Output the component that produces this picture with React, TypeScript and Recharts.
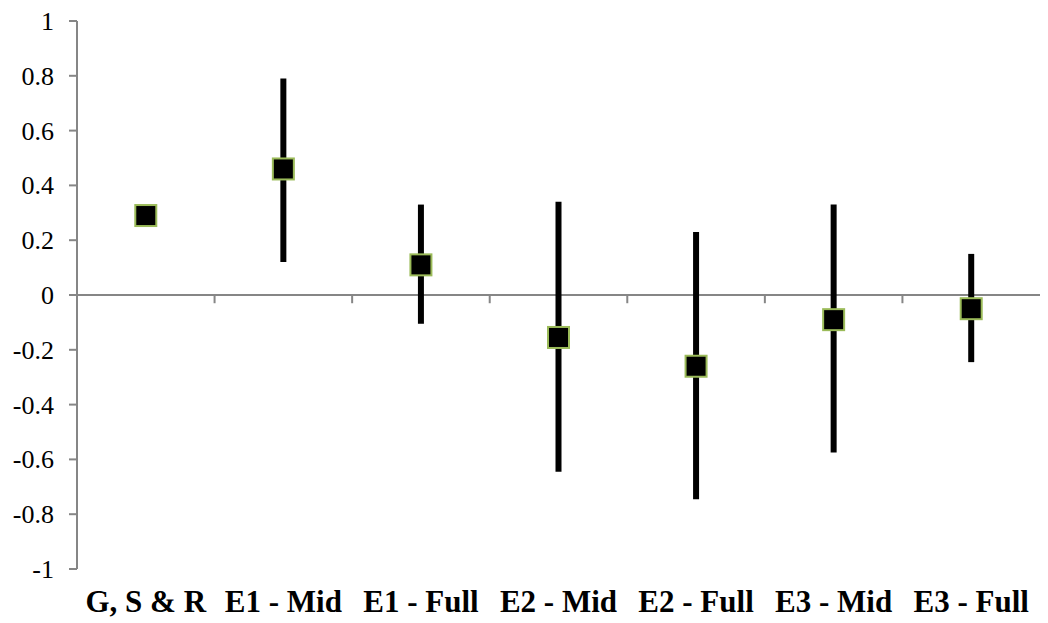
import React from 'react';
import { LineChart, Line, XAxis, YAxis, ReferenceLine, ErrorBar } from 'recharts';

const categories = ['G, S & R', 'E1 - Mid', 'E1 - Full', 'E2 - Mid', 'E2 - Full', 'E3 - Mid', 'E3 - Full'];
const means = [0.29, 0.46, 0.11, -0.155, -0.26, -0.09, -0.05];
const lows = [0.29, 0.12, -0.105, -0.645, -0.745, -0.575, -0.245];
const highs = [0.29, 0.79, 0.33, 0.34, 0.23, 0.33, 0.15];
const yTicks = [-1, -0.8, -0.6, -0.4, -0.2, 0, 0.2, 0.4, 0.6, 0.8, 1];

const AXIS = '#868686';
const FONT = "'Times New Roman', 'Liberation Serif', Times, serif";

const data = categories.map((name, i) => ({
  pos: i + 1,
  name,
  mean: means[i],
  err: [means[i] - lows[i], highs[i] - means[i]],
}));

// boundaries between categories, where the zero line gets its small tick marks
const boundaries = categories.slice(1).map((_, i) => i + 1.5);

const Square = (props: any) => {
  const { cx, cy } = props;
  if (cx == null || cy == null) return null;
  const s = 21;
  return (
    <rect x={cx - s / 2} y={cy - s / 2} width={s} height={s} fill="#000" stroke="#9bbb59" strokeWidth={2} />
  );
};

// tick label with the font set on the text element itself
const Tick = (props: any) => {
  const { x, y, payload, anchor, size, weight, dy, format } = props;
  return (
    <text
      x={x}
      y={y}
      dy={dy}
      textAnchor={anchor}
      fill="#000"
      style={{ fontFamily: FONT, fontSize: size, fontWeight: weight }}
    >
      {format(payload.value)}
    </text>
  );
};

export default function App() {
  return (
    <div style={{ position: 'absolute', left: 0, top: 0, background: '#fff', fontFamily: FONT }}>
      <LineChart width={1048} height={623} data={data} margin={{ top: 21, right: 8, left: 0, bottom: 0 }}>
        <XAxis
          dataKey="pos"
          type="number"
          domain={[0.5, 7.5]}
          ticks={data.map((d) => d.pos)}
          axisLine={false}
          tickLine={false}
          tickSize={0}
          tickMargin={21}
          height={54}
          interval={0}
          tick={
            <Tick anchor="middle" size={31} weight="bold" dy={22} format={(v: number) => categories[v - 1]} />
          }
        />
        <YAxis
          type="number"
          domain={[-1, 1]}
          ticks={yTicks}
          width={77}
          interval={0}
          axisLine={{ stroke: AXIS, strokeWidth: 2 }}
          tickLine={{ stroke: AXIS, strokeWidth: 2 }}
          tickSize={8}
          tickMargin={15}
          tick={<Tick anchor="end" size={26} weight="normal" dy={9} format={(v: number) => String(v)} />}
        />
        <ReferenceLine y={0} stroke={AXIS} strokeWidth={2} />
        {boundaries.map((b) => (
          <ReferenceLine
            key={b}
            segment={[
              { x: b, y: 0 },
              { x: b, y: -0.03 },
            ]}
            stroke={AXIS}
            strokeWidth={2}
          />
        ))}
        <Line dataKey="mean" stroke="none" dot={false} activeDot={false} isAnimationActive={false}>
          <ErrorBar dataKey="err" width={0} strokeWidth={6} stroke="#000" direction="y" isAnimationActive={false} />
        </Line>
        <Line dataKey="mean" stroke="none" dot={<Square />} activeDot={false} isAnimationActive={false} />
      </LineChart>
    </div>
  );
}
